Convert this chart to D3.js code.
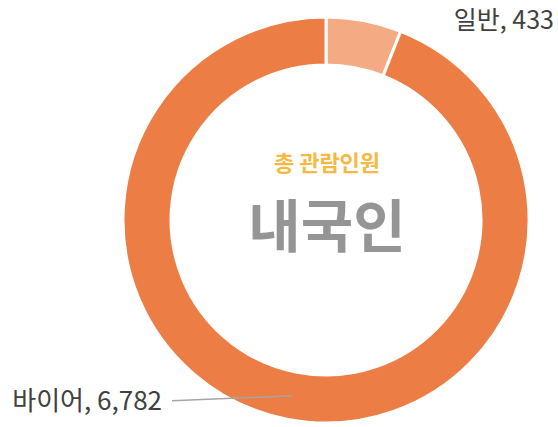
<!DOCTYPE html>
<html>
<head>
<meta charset="utf-8">
<script src="https://cdn.jsdelivr.net/npm/d3@7"></script>
<style>
  html, body { margin: 0; padding: 0; background: #fff; }
  svg { display: block; }
</style>
</head>
<body>
<div id="chart"></div>
<script>
// chart data
const categories = ["일반", "바이어"];
const visitors = [433, 6782];
const sliceColors = ["#F4AA83", "#EB7D45"];
const centerTitle = "총 관람인원";
const centerLabel = "내국인";

const width = 558, height = 427;
const cx = 326, cy = 220;
const outerR = 203, innerR = 155;

const svg = d3.select("#chart").append("svg")
  .attr("width", width)
  .attr("height", height);

const g = svg.append("g")
  .attr("transform", `translate(${cx},${cy})`);

const pie = d3.pie().sort(null).value(d => d.value);
const arc = d3.arc().innerRadius(innerR).outerRadius(outerR);
const midArc = d3.arc().innerRadius((innerR + outerR) / 2).outerRadius((innerR + outerR) / 2);

const data = categories.map((c, i) => ({ name: c, value: visitors[i], color: sliceColors[i] }));
const arcs = pie(data);

// slices
g.selectAll("path.slice")
  .data(arcs)
  .enter().append("path")
  .attr("class", "slice")
  .attr("d", arc)
  .attr("fill", d => d.data.color)
  .attr("stroke", "#fff")
  .attr("stroke-width", 3);

const labelFont = "'Noto Sans CJK KR', 'Noto Sans', sans-serif";

// small slice label (top right, no leader)
const small = arcs[0];
g.append("text")
  .attr("x", 228)
  .attr("y", -191)
  .attr("text-anchor", "end")
  .attr("font-family", labelFont)
  .attr("font-size", 25)
  .attr("fill", "#404040")
  .text(`${small.data.name}, ${d3.format(",")(small.data.value)}`);

// big slice label with leader line
const big = arcs[1];
const [lx, ly] = midArc.centroid(big);
g.append("line")
  .attr("x1", lx)
  .attr("y1", ly)
  .attr("x2", -154)
  .attr("y2", ly + 5)
  .attr("stroke", "#A6A6A6")
  .attr("stroke-width", 1.5);

g.append("text")
  .attr("x", -164)
  .attr("y", ly + 14)
  .attr("text-anchor", "end")
  .attr("font-family", labelFont)
  .attr("font-size", 26)
  .attr("fill", "#404040")
  .text(`${big.data.name}, ${d3.format(",")(big.data.value)}`);

// center texts
g.append("text")
  .attr("x", 1)
  .attr("y", -49)
  .attr("text-anchor", "middle")
  .attr("font-family", labelFont)
  .attr("font-weight", 700)
  .attr("font-size", 22)
  .attr("fill", "#F5B942")
  .text(centerTitle);

g.append("text")
  .attr("x", 1)
  .attr("y", 27)
  .attr("text-anchor", "middle")
  .attr("font-family", labelFont)
  .attr("font-weight", 700)
  .attr("font-size", 57)
  .attr("fill", "#959595")
  .text(centerLabel);
</script>
</body>
</html>
